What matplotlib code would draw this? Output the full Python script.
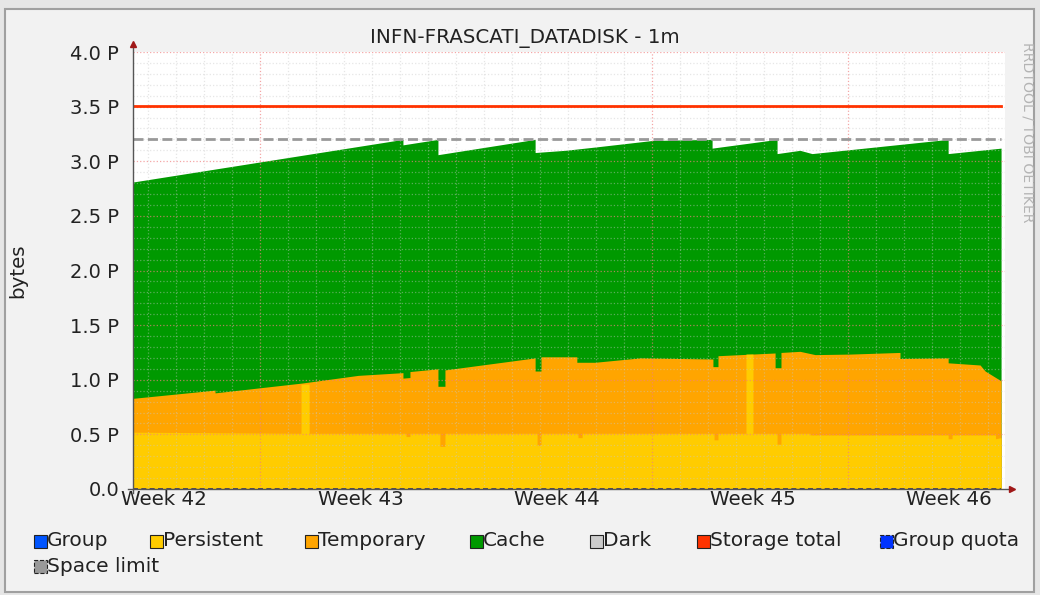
import numpy as np
import matplotlib.pyplot as plt
from matplotlib.patches import Rectangle

W, H = 1040, 595

# x values are days since the start of the 1-month window, y values in PB (stacked tops)
cache_days = [0.00, 9.64, 9.64, 10.89, 10.89, 14.36, 14.36, 15.43, 16.50, 18.54,
              20.68, 20.68, 23.00, 23.00, 23.82, 24.25, 29.11, 29.11, 31.00]
cache_top = [2.81, 3.20, 3.15, 3.20, 3.06, 3.20, 3.08, 3.10, 3.13, 3.19,
             3.20, 3.12, 3.20, 3.07, 3.10, 3.07, 3.20, 3.07, 3.12]

temp_days = [0.00, 2.93, 2.93, 6.04, 8.04, 9.64, 9.64, 9.89, 9.89, 10.89,
             10.89, 11.14, 11.14, 14.36, 14.36, 14.57, 14.57, 15.85, 15.85, 16.50,
             18.11, 20.71, 20.71, 20.89, 20.89, 22.93, 22.93, 23.14, 23.14, 23.82,
             24.36, 25.61, 27.39, 27.39, 29.11, 29.11, 30.25, 30.43, 31.00]
temp_top = [0.83, 0.905, 0.88, 0.97, 1.04, 1.065, 1.015, 1.02, 1.075, 1.10,
            0.94, 0.94, 1.09, 1.20, 1.08, 1.08, 1.21, 1.21, 1.16, 1.16,
            1.20, 1.19, 1.12, 1.12, 1.22, 1.245, 1.11, 1.11, 1.25, 1.26,
            1.23, 1.235, 1.25, 1.195, 1.20, 1.155, 1.135, 1.08, 0.99]

pers_days = [0.00, 6.00, 6.00, 6.29, 6.29, 9.75, 9.75, 9.89, 9.89, 10.96,
             10.96, 11.14, 11.14, 14.43, 14.43, 14.57, 14.57, 15.89, 15.89, 16.04,
             16.04, 20.75, 20.75, 20.89, 20.89, 21.89, 21.89, 22.14, 22.14, 23.00,
             23.00, 23.14, 23.14, 24.18, 24.18, 29.11, 29.11, 29.25, 29.25, 30.80,
             30.80, 31.00]
pers_top = [0.52, 0.51, 0.96, 0.96, 0.51, 0.51, 0.48, 0.48, 0.51, 0.51,
            0.39, 0.39, 0.51, 0.51, 0.40, 0.40, 0.51, 0.51, 0.47, 0.47,
            0.51, 0.51, 0.45, 0.45, 0.51, 0.51, 1.235, 1.235, 0.51, 0.51,
            0.41, 0.41, 0.51, 0.51, 0.495, 0.495, 0.46, 0.46, 0.495, 0.495,
            0.46, 0.47]

storage_total = 3.51
space_limit = 3.20

week_labels = ['Week 42', 'Week 43', 'Week 44', 'Week 45', 'Week 46']
week_centers = [1.12, 8.12, 15.12, 22.12, 29.12]
y_ticks = [0.0, 0.5, 1.0, 1.5, 2.0, 2.5, 3.0, 3.5, 4.0]
y_labels = ['0.0', '0.5 P', '1.0 P', '1.5 P', '2.0 P', '2.5 P', '3.0 P', '3.5 P', '4.0 P']

legend_names = ['Group', 'Persistent', 'Temporary', 'Cache', 'Dark',
                'Storage total', 'Group quota', 'Space limit']
legend_colors = ['#0055ff', '#ffcc00', '#ffa500', '#009900', '#cccccc',
                 '#ff3300', '#0033ff', '#999999']
legend_x = [34, 150, 305, 470, 590, 697, 880, 34]
legend_y = [541, 541, 541, 541, 541, 541, 541, 566]


def fx(px):
    return px / W


def fy(py):
    return 1 - py / H


fig = plt.figure(figsize=(W / 100, H / 100), dpi=100, facecolor='#e6e6e6')
fig.patches.append(Rectangle((fx(5), fy(592)), (1034 - 5) / W, (592 - 9) / H,
                             transform=fig.transFigure, facecolor='#f2f2f2',
                             edgecolor='#a0a0a0', lw=1.5, zorder=-10))

ax = fig.add_axes([fx(133), fy(489), (1005 - 133) / W, (489 - 52) / H])
ax.set_facecolor('white')
ax.set_xlim(0, 31.14)
ax.set_ylim(0, 4.0)
for s in ax.spines.values():
    s.set_visible(False)

ax.fill_between(cache_days, 0, cache_top, color='#009900', lw=0, zorder=1)
ax.fill_between(temp_days, 0, temp_top, color='#ffa500', lw=0, zorder=2)
ax.fill_between(pers_days, 0, pers_top, color='#ffcc00', lw=0, zorder=3)

# grid on top of the areas, like rrdtool
for d in np.arange(0.54, 31.2, 1.0):
    major = abs((d - 4.54) % 7) < 0.01
    ax.axvline(d, color='#f08080' if major else '#c8c8c8', ls=':', lw=0.9,
               alpha=0.7 if major else 0.45, zorder=4)
for v in np.arange(0.1, 4.05, 0.1):
    major = abs(v * 2 - round(v * 2)) < 0.01
    ax.axhline(v, color='#f08080' if major else '#c8c8c8', ls=':', lw=0.9,
               alpha=0.7 if major else 0.45, zorder=4)

ax.plot([0, 31.0], [storage_total, storage_total], color='#ff3300', lw=2, zorder=6)
ax.plot([0, 31.0], [space_limit, space_limit], color='#999999', lw=2,
        ls=(0, (3.6, 1.6)), zorder=6)
ax.plot([0, 31.0], [0, 0], color='#333366', lw=1.2, ls=(0, (3, 2)), zorder=7)

# axes with arrow heads
ax.plot([0, 0], [-0.04, 4.07], color='#555555', lw=1, clip_on=False, zorder=8)
ax.plot(0, 4.07, marker='^', color='#a01818', ms=5, clip_on=False, zorder=8)
ax.plot([-0.18, 31.39], [0, 0], color='#555555', lw=1, clip_on=False, zorder=8)
ax.plot(31.39, 0, marker='>', color='#a01818', ms=5, clip_on=False, zorder=8)

ax.set_yticks(y_ticks, y_labels, fontsize=14)
ax.set_xticks(week_centers, week_labels, fontsize=14.3)
ax.tick_params(axis='y', length=0, pad=10, colors='#222222')
ax.tick_params(axis='x', length=0, pad=1, colors='#222222')

fig.text(fx(525), fy(38), 'INFN-FRASCATI_DATADISK - 1m', ha='center', va='center',
         fontsize=14.3, color='#222222')
fig.text(fx(18), fy(271), 'bytes', rotation=90, ha='center', va='center',
         fontsize=14.3, color='#222222')
fig.text(fx(1028), fy(42), 'RRDTOOL / TOBI OETIKER', rotation=270, ha='center',
         va='top', fontsize=10.1, color='#b4b4b4')

for name, col, x, y in zip(legend_names, legend_colors, legend_x, legend_y):
    dashed = name in ('Group quota', 'Space limit')
    fig.patches.append(Rectangle((fx(x), fy(y + 6.5)), 13 / W, 13 / H,
                                 transform=fig.transFigure, facecolor=col,
                                 edgecolor='#222222', lw=0.8,
                                 ls='--' if dashed else '-'))
    fig.text(fx(x + 13), fy(y), name, ha='left', va='center', fontsize=14.5,
             color='#222222')

fig.savefig('out.png', dpi=100, facecolor=fig.get_facecolor())
